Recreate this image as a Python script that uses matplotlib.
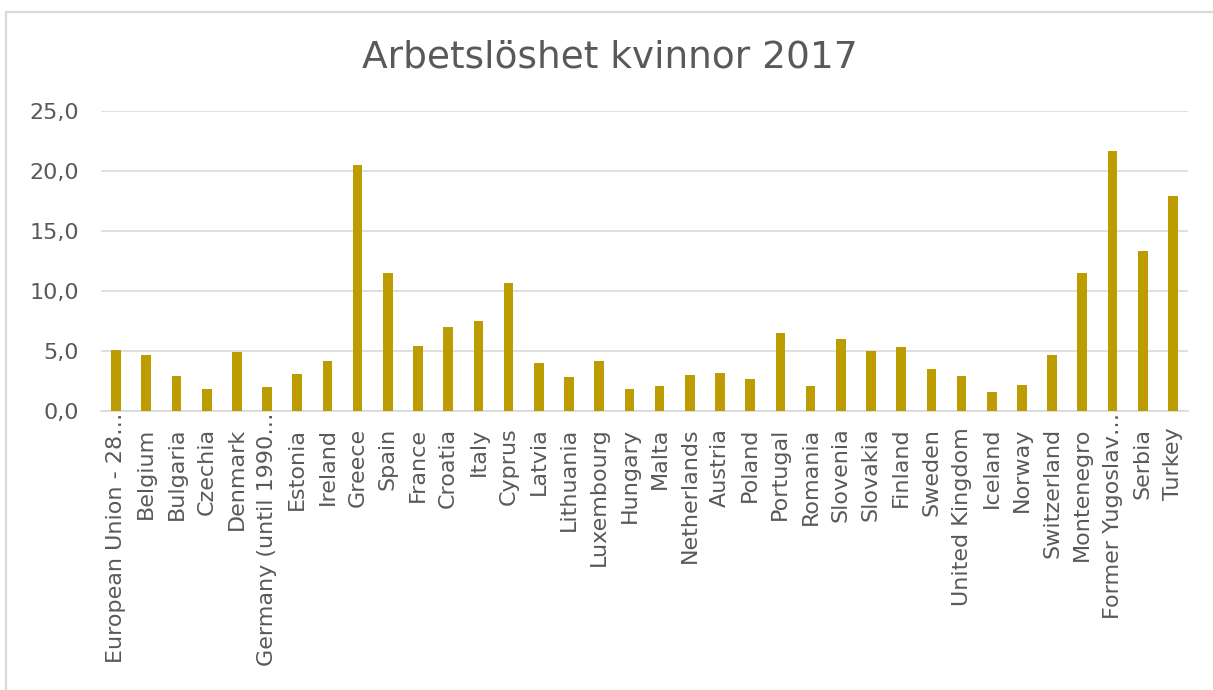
import matplotlib
matplotlib.use("Agg")
import matplotlib.pyplot as plt
from matplotlib.lines import Line2D
from matplotlib.transforms import ScaledTranslation

categories = [
    "European Union - 28…", "Belgium", "Bulgaria", "Czechia", "Denmark",
    "Germany (until 1990…", "Estonia", "Ireland", "Greece", "Spain", "France",
    "Croatia", "Italy", "Cyprus", "Latvia", "Lithuania", "Luxembourg",
    "Hungary", "Malta", "Netherlands", "Austria", "Poland", "Portugal",
    "Romania", "Slovenia", "Slovakia", "Finland", "Sweden", "United Kingdom",
    "Iceland", "Norway", "Switzerland", "Montenegro", "Former Yugoslav…",
    "Serbia", "Turkey",
]
values = [
    5.1, 4.7, 2.9, 1.8, 4.9, 2.0, 3.1, 4.2, 20.5, 11.5, 5.4, 7.0, 7.5, 10.7,
    4.0, 2.8, 4.2, 1.8, 2.1, 3.0, 3.2, 2.7, 6.5, 2.1, 6.0, 5.0, 5.3, 3.5,
    2.9, 1.6, 2.2, 4.7, 11.5, 21.7, 13.3, 17.9,
]
yticks = [0, 5, 10, 15, 20, 25]
ytick_labels = ["0,0", "5,0", "10,0", "15,0", "20,0", "25,0"]
title = "Arbetslöshet kvinnor 2017"

text_color = "#595959"
bar_color = "#BC9C00"
grid_color = "#D9D9D9"

W, H = 1213, 690
fig = plt.figure(figsize=(W / 100, H / 100), dpi=100)
fig.lines.append(Line2D([6 / W, 6 / W, 1.0], [0.0, 1 - 12 / H, 1 - 12 / H],
                        transform=fig.transFigure, color="#D9D9D9", linewidth=1.6))
ax = fig.add_axes([101 / W, 1 - 411 / H, (1188 - 101) / W, 300 / H])

x = list(range(len(categories)))
ax.bar(x, values, width=0.32, color=bar_color, zorder=3)
ax.set_xlim(-0.5, len(categories) - 0.5)
ax.set_ylim(0, 25)
ax.set_yticks(yticks)
ax.set_yticklabels(ytick_labels)
ax.set_xticks(x)
ax.set_xticklabels(categories, rotation=90)
ax.tick_params(axis="both", length=0, colors=text_color, labelsize=16)
ax.tick_params(axis="y", pad=16)
ax.tick_params(axis="x", pad=12)
for s in ["top", "right", "left"]:
    ax.spines[s].set_visible(False)
ax.spines["bottom"].set_color(grid_color)
ax.spines["bottom"].set_linewidth(1.2)
ax.yaxis.grid(True, color=grid_color, linewidth=1.2, zorder=0)
ax.set_axisbelow(True)

shift = ScaledTranslation(0, 15 / 100, fig.dpi_scale_trans)
for lbl in ax.get_xticklabels():
    if lbl.get_text().endswith("…"):
        lbl.set_transform(lbl.get_transform() + shift)

fig.text(0.503, 1 - 57 / H, title, ha="center", va="center", fontsize=27, color=text_color)

fig.savefig("out.png", dpi=100)
